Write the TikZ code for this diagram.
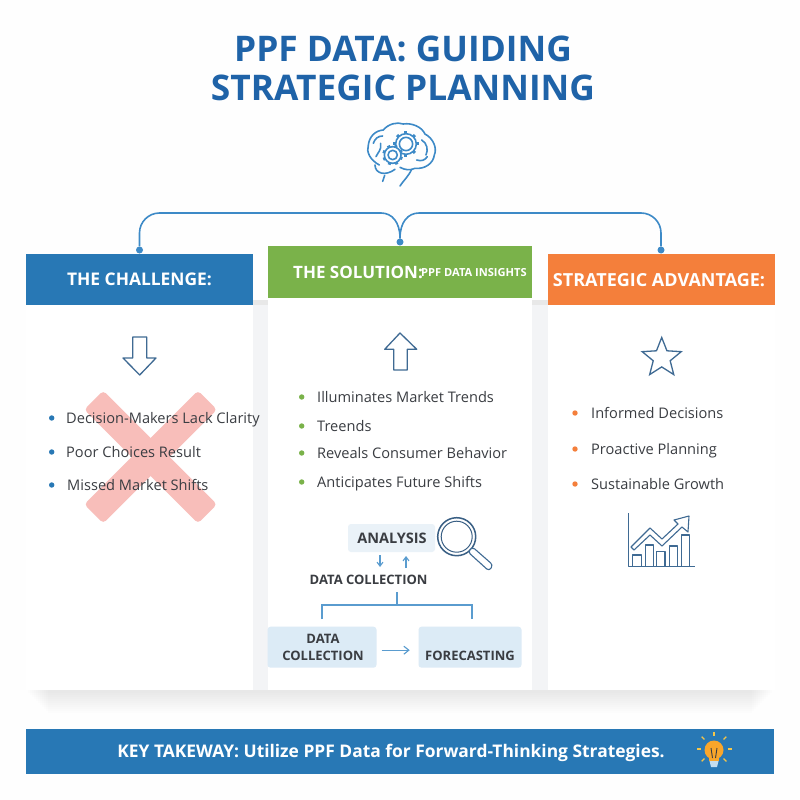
\documentclass[tikz,border=0pt]{standalone}
\usepackage{fontspec}
\setmainfont{Open Sans}
\usetikzlibrary{shapes.geometric,arrows.meta}
\definecolor{paper}{HTML}{FEFEFE}
\definecolor{titleblue}{HTML}{1F63A8}
\definecolor{bandblue}{HTML}{2878B5}
\definecolor{bandgreen}{HTML}{7AB24A}
\definecolor{bandorange}{HTML}{F47F3B}
\definecolor{linkblue}{HTML}{3D8AC7}
\definecolor{iconblue}{HTML}{3F6A93}
\definecolor{inkdark}{HTML}{3A3D42}
\definecolor{boxpale}{HTML}{EAF2F8}
\definecolor{boxblue}{HTML}{DCEBF6}
\definecolor{crosspink}{HTML}{F8BEBA}
\definecolor{gapgray}{HTML}{F3F4F6}
\definecolor{bulbfill}{HTML}{F9A62B}
\definecolor{rayfill}{HTML}{F5C64A}
\tikzset{
  cardbox/.style={draw=none,fill=white,inner sep=0pt},
  headband/.style={draw=none,inner sep=0pt,text=white,font=\bfseries\fontsize{17.4}{20}\selectfont},
  itemtext/.style={anchor=west,inner sep=0pt,text=inkdark,text height=11pt,text depth=3pt,font=\fontsize{14.6}{18}\selectfont},
  crossbar/.style={fill=crosspink,rounded corners=4pt,minimum width=161pt,minimum height=27pt,inner sep=0pt},
  link/.style={draw=linkblue,line width=1.6pt},
  linkdot/.style={circle,fill=linkblue,inner sep=0pt,minimum size=7pt},
  flow/.style={draw=linkblue!85,line width=1.1pt,-{Straight Barb[length=4pt,width=6pt]}},
  fork/.style={draw=linkblue!85,line width=1.2pt},
  flowtext/.style={inner sep=0pt,text=inkdark,font=\bfseries\fontsize{13}{16.5}\selectfont,align=center},
  icon/.style={draw=iconblue,line width=1.3pt,line join=round},
  brainline/.style={draw=linkblue,line width=1.6pt,line cap=round,line join=round}
}
\begin{document}
\begin{tikzpicture}[x=1pt,y=-1pt]
\useasboundingbox (0,0) rectangle (800,800);
\fill[paper] (0,0) rectangle (800,800);
\node[text=titleblue,align=center,inner sep=0pt,font=\bfseries\fontsize{35.3}{38.5}\selectfont] (title) at (403,68.5) {PPF DATA: GUIDING\\STRATEGIC PLANNING};
\foreach \s in {2,4,...,22}
  \fill[black,opacity=.006] (26+\s,300) rectangle (774-\s,691+\s);
\fill[gapgray] (252,305) rectangle (269,690);
\fill[gapgray] (531,305) rectangle (549,690);
\node[cardbox,minimum width=227pt,minimum height=436pt] (leftcard) at (139.5,472) {};
\node[cardbox,minimum width=264pt,minimum height=444pt] (midcard) at (400,468) {};
\node[cardbox,minimum width=227pt,minimum height=436pt] (rightcard) at (661.5,472) {};
\node[headband,fill=bandblue,minimum width=227pt,minimum height=51pt] (challenge) at (139.5,279.5) {THE CHALLENGE:};
\node[headband,fill=bandgreen,minimum width=264pt,minimum height=52pt] (solution) at (400,272) {};
\node[headband,anchor=west,font=\bfseries\fontsize{17}{20}\selectfont] (solutiontext) at (293,272) {THE SOLUTION:};
\node[anchor=west,inner sep=0pt,text=white,font=\bfseries\fontsize{11.1}{13}\selectfont] (solutionsub) at (421,273) {PPF DATA INSIGHTS};
\node[headband,fill=bandorange,minimum width=227pt,minimum height=51pt] (advantage) at (661.5,279.5) {};
\node[headband,font=\bfseries\fontsize{18}{20}\selectfont] (advantagetext) at (659,280) {STRATEGIC ADVANTAGE:};
\node[linkdot] (dotleft) at (139.5,250) {};
\node[linkdot] (dotmid) at (400,242) {};
\node[linkdot] (dotright) at (661,250) {};
\draw[link] (dotleft.north) [rounded corners=20pt] -- (139.5,213) [sharp corners] -- (381,213) .. controls (392,213) and (400,222) .. (dotmid.north);
\draw[link] (dotright.north) [rounded corners=20pt] -- (661,213) [sharp corners] -- (419,213) .. controls (408,213) and (400,222) .. (dotmid.north);
% brain
\begin{scope}[shift={(340,110)},x=.3333pt,y=-.3333pt]
\draw[brainline] (118,165) .. controls (90,150) and (78,125) .. (85,105) .. controls (88,80) and (105,62) .. (130,60) .. controls (145,42) and (170,35) .. (190,42) .. controls (215,38) and (245,50) .. (255,72) .. controls (280,85) and (292,115) .. (283,135) .. controls (280,160) and (255,178) .. (225,175) .. controls (210,182) and (195,180) .. (180,172);
\draw[brainline] (105,165) .. controls (105,190) and (135,200) .. (165,178);
\draw[brainline] (128,214) -- (134,196);
\draw[brainline] (180,228) .. controls (190,212) and (205,200) .. (215,178);
\draw[brainline] (100,100) .. controls (105,85) and (115,78) .. (128,78);
\draw[brainline] (108,140) .. controls (115,125) and (125,120) .. (122,100);
\draw[brainline] (245,90) .. controls (262,100) and (265,120) .. (258,135);
\draw[brainline] (230,150) .. controls (245,155) and (255,150) .. (262,140);
\draw[brainline,fill=white] (198,102) circle (31);
\foreach \a in {0,45,...,315}
  \draw[brainline,line width=3pt,line cap=butt] (198,102) ++(\a:30) -- ++(\a:8);
\draw[brainline] (198,102) circle (20);
\draw[brainline,fill=white] (158,135) circle (25);
\foreach \a in {0,45,...,315}
  \draw[brainline,line width=3pt,line cap=butt] (158,135) ++(\a+20:24) -- ++(\a+20:7);
\draw[brainline] (158,135) circle (14);
\end{scope}
% left card
\node[crossbar,rotate=45] (crossa) at (150.6,457) {};
\node[crossbar,rotate=-45] (crossb) at (150.6,457) {};
\draw[icon] (132.7,337) -- (146.7,337) -- (146.7,358) -- (156,358) -- (139.7,375) -- (123,358) -- (132.7,358) -- cycle;
\foreach \nm/\x/\y/\txt in {one/66/418/Decision-Makers Lack Clarity,two/66/452/Poor Choices Result,three/67/485/Missed Market Shifts} {
  \fill[bandblue] (51.7,\y) circle (2.7);
  \node[itemtext] (left\nm) at (\x,\y+1) {\txt};
}
% middle card
\draw[icon] (400,333) -- (416.7,349.3) -- (407.3,349.3) -- (407.3,370) -- (393.7,370) -- (393.7,349.3) -- (384.7,349.3) -- cycle;
\foreach \nm/\y/\txt in {one/397/Illuminates Market Trends,two/426/Treends,three/453/Reveals Consumer Behavior,four/482/Anticipates Future Shifts} {
  \fill[bandgreen] (301.7,\y) circle (2.7);
  \node[itemtext] (mid\nm) at (317,\y+1) {\txt};
}
\node[fill=boxpale,rounded corners=3pt,minimum width=87pt,minimum height=28pt,inner sep=0pt] (analysisbox) at (391.5,538) {};
\node[flowtext,font=\bfseries\fontsize{14.5}{17}\selectfont] (analysis) at (392,538) {ANALYSIS};
\node[flowtext] (collecttitle) at (368.6,580) {DATA COLLECTION};
\coordinate (downfrom) at (380,555);
\coordinate (downto) at (380,567);
\coordinate (upfrom) at (406,568);
\coordinate (upto) at (406,556);
\draw[flow] (downfrom) -- (downto);
\draw[flow] (upfrom) -- (upto);
\node[fill=boxblue,rounded corners=3pt,minimum width=109pt,minimum height=41pt,inner sep=0pt] (collectbox) at (322,647.2) {};
\node[fill=boxblue,rounded corners=3pt,minimum width=103pt,minimum height=41pt,inner sep=0pt] (forecastbox) at (470,647.2) {};
\node[flowtext] (collecttext) at (323,647.5) {DATA\\COLLECTION};
\node[flowtext] (forecasttext) at (470,656) {FORECASTING};
\coordinate (forkin) at (397,592);
\coordinate (forkmid) at (397,605);
\coordinate (forkl) at (322,619);
\coordinate (forkr) at (472,619);
\draw[fork] (forkin) -- (forkmid);
\draw[fork] (forkl) |- (forkmid) -| (forkr);
\draw[flow,-{Straight Barb[length=5pt,width=8pt]}] (collectbox.east) ++(5,3) -- ++(28,0);
\draw[icon,draw=iconblue!90!black,line width=1.5pt] (456.7,536.7) circle (19);
\draw[icon,draw=iconblue!90!black,line width=1pt] (456.7,536.7) circle (15.5);
\draw[icon,line width=1.1pt,rounded corners=3pt,fill=white] (468,552) -- (472.5,547) -- (493,565) -- (489,571) -- cycle;
% right card
\node[star,star points=5,star point ratio=2.3,draw=iconblue,line width=1.3pt,minimum size=41pt,inner sep=0pt] (staricon) at (661.7,358) {};
\foreach \nm/\y/\txt in {one/413/Informed Decisions,two/449/Proactive Planning,three/484/Sustainable Growth} {
  \fill[bandorange] (575,\y) circle (2.7);
  \node[itemtext] (right\nm) at (591,\y+1) {\txt};
}
\draw[icon] (628.3,513) -- (628.3,566.7) -- (695,566.7);
\foreach \xa/\xb/\ytop in {632.7/641.3/555,645.3/653.3/545,656.7/665/551.7,669.3/677.3/546,681.3/689.3/535}
  \draw[icon,line width=1.2pt] (\xa,566.7) -- (\xa,\ytop) -- (\xb,\ytop) -- (\xb,566.7);
\draw[icon,line width=1.1pt,fill=white] (631,547) -- (650,528) -- (662,539) -- (678,524) -- (674,520) -- (689,516) -- (688,532) -- (682,527) -- (662,546) -- (650,535) -- (634,550) -- cycle;
% footer
\node[fill=bandblue,minimum width=748pt,minimum height=45pt,inner sep=0pt] (footer) at (400,751.5) {};
\node[text=white,inner sep=0pt,font=\bfseries\fontsize{17.4}{20}\selectfont] (takeaway) at (391,752.5) {KEY TAKEWAY: Utilize PPF Data for Forward-Thinking Strategies.};
\foreach \a in {0,-45,-90,-135,180,135,45}
  \draw[draw=rayfill,line width=1.2pt] (714,749) ++(\a:13.5) -- ++(\a:4);
\fill[bulbfill] (714,750) circle (9.5);
\fill[bulbfill] (709,756) rectangle (719,761);
\draw[inkdark,line width=.9pt] (711,748) -- (712.5,758) (717,748) -- (715.5,758);
\fill[boxblue!85!linkblue] (709.5,761) -- (718.5,761) -- (717,767) -- (711,767) -- cycle;
\end{tikzpicture}
\end{document}
